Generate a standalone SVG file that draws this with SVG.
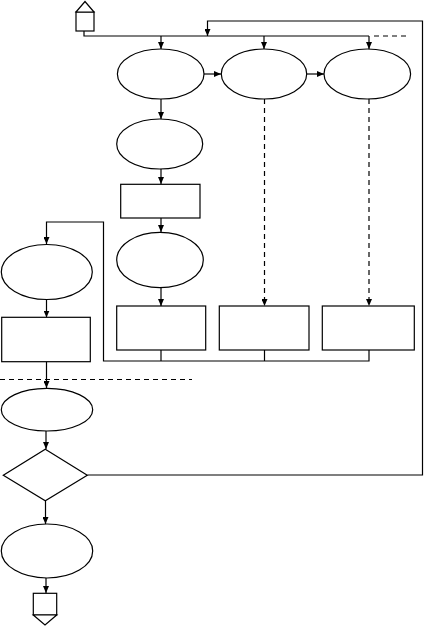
<svg xmlns="http://www.w3.org/2000/svg" width="424" height="626" viewBox="0 0 424 626">
<style>
.n{fill:#fff;stroke:#000;stroke-width:1.2}
.c{fill:none;stroke:#000;stroke-width:1.2}
.d{fill:none;stroke:#000;stroke-width:1.2;stroke-dasharray:5,4}
</style>
<defs>
<marker id="a" markerUnits="userSpaceOnUse" markerWidth="8" markerHeight="6" refX="7" refY="3" orient="auto">
<path d="M0,0 L7,3 L0,6 z" fill="#000"/>
</marker>
</defs>
<rect width="424" height="626" fill="#fff"/>
<g id="connectors">
<polyline class="c" points="84,31 84,36 369,36"/>
<line class="d" x1="374" y1="36" x2="408" y2="36"/>
<line class="c" x1="161" y1="36" x2="161" y2="49" marker-end="url(#a)"/>
<line class="c" x1="264" y1="36" x2="264" y2="49" marker-end="url(#a)"/>
<line class="c" x1="369" y1="36" x2="369" y2="49" marker-end="url(#a)"/>
<polyline class="c" points="87.5,475 422.5,475 422.5,21 207.5,21 207.5,36" marker-end="url(#a)"/>
<line class="c" x1="204" y1="74" x2="221" y2="74" marker-end="url(#a)"/>
<line class="c" x1="307" y1="74" x2="324" y2="74" marker-end="url(#a)"/>
<line class="c" x1="161" y1="99" x2="161" y2="119" marker-end="url(#a)"/>
<line class="c" x1="161" y1="169" x2="161" y2="184" marker-end="url(#a)"/>
<line class="c" x1="161" y1="218" x2="161" y2="232" marker-end="url(#a)"/>
<line class="c" x1="161" y1="288" x2="161" y2="306" marker-end="url(#a)"/>
<line class="d" x1="264.5" y1="99" x2="264.5" y2="306" marker-end="url(#a)"/>
<line class="d" x1="369" y1="99" x2="369" y2="306" marker-end="url(#a)"/>
<polyline class="c" points="161,350 161,361"/>
<polyline class="c" points="264.5,350 264.5,361"/>
<polyline class="c" points="369,350 369,361 103.5,361 103.5,222 46.5,222 46.5,244" marker-end="url(#a)"/>
<line class="c" x1="46.5" y1="299.5" x2="46.5" y2="317.5" marker-end="url(#a)"/>
<line class="d" x1="0" y1="379.5" x2="192" y2="379.5"/>
<line class="c" x1="46.5" y1="361.5" x2="46.5" y2="388" marker-end="url(#a)"/>
<line class="c" x1="46" y1="431" x2="46" y2="449" marker-end="url(#a)"/>
<line class="c" x1="45.5" y1="501" x2="45.5" y2="524" marker-end="url(#a)"/>
<line class="c" x1="46" y1="578" x2="46" y2="593" marker-end="url(#a)"/>
</g>
<g id="start">
<rect class="n" x="76" y="12" width="18" height="19"/>
<polygon class="n" points="76,12 94,12 85,1.5"/>
</g>
<g id="e1"><ellipse class="n" cx="160.7" cy="74" rx="43.3" ry="25"/></g>
<g id="e2"><ellipse class="n" cx="264" cy="74" rx="42.7" ry="25"/></g>
<g id="e3"><ellipse class="n" cx="367.3" cy="74" rx="43.3" ry="25"/></g>
<g id="e4"><ellipse class="n" cx="159.7" cy="144" rx="43" ry="25"/></g>
<g id="r1"><rect class="n" x="120.7" y="184.3" width="79.3" height="33.7"/></g>
<g id="e5"><ellipse class="n" cx="160" cy="260" rx="43.3" ry="27.7"/></g>
<g id="r2"><rect class="n" x="116.7" y="306" width="89" height="44"/></g>
<g id="r3"><rect class="n" x="219.3" y="306" width="89.7" height="44"/></g>
<g id="r4"><rect class="n" x="322.3" y="306" width="92" height="44"/></g>
<g id="e6"><ellipse class="n" cx="46.8" cy="272" rx="45.5" ry="27.5"/></g>
<g id="r5"><rect class="n" x="1.7" y="317.3" width="88.6" height="44.4"/></g>
<g id="e7"><ellipse class="n" cx="47" cy="409.7" rx="45.7" ry="21.3"/></g>
<g id="dec"><polygon class="n" points="45.3,449.3 87.3,475.3 45.3,500.7 3.3,475.3"/></g>
<g id="e8"><ellipse class="n" cx="47" cy="551" rx="45.7" ry="27"/></g>
<g id="end">
<rect class="n" x="33.3" y="593.3" width="23.4" height="21.7"/>
<polygon class="n" points="33.3,615 56.7,615 45,625"/>
</g>
</svg>
